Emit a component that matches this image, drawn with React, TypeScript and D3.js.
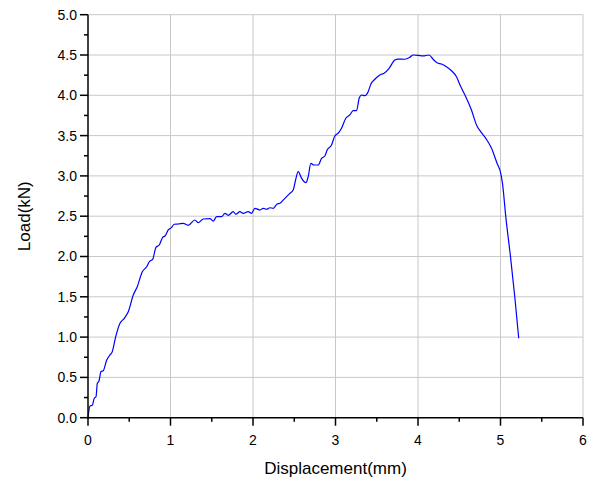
import React from "react";
import * as d3 from "d3";

const displacement = [
  0, 0.024, 0.052, 0.076, 0.097, 0.113, 0.133, 0.157, 0.185, 0.227, 0.266, 0.294, 0.336, 0.388, 0.44, 0.488,
  0.549, 0.597, 0.658, 0.711, 0.743, 0.784, 0.824, 0.864, 0.905, 0.933, 0.973, 1.014, 1.045, 1.094, 1.154,
  1.215, 1.296, 1.336, 1.397, 1.478, 1.518, 1.559, 1.62, 1.66, 1.7, 1.76, 1.793, 1.841, 1.881, 1.942, 1.983,
  2.023, 2.084, 2.124, 2.165, 2.205, 2.245, 2.293, 2.326, 2.386, 2.447, 2.487, 2.516, 2.548, 2.589, 2.641,
  2.669, 2.701, 2.738, 2.79, 2.831, 2.871, 2.899, 2.952, 2.992, 3.032, 3.073, 3.125, 3.174, 3.214, 3.255,
  3.287, 3.316, 3.356, 3.396, 3.428, 3.477, 3.537, 3.589, 3.65, 3.719, 3.759, 3.84, 3.901, 3.941, 4.001,
  4.062, 4.134, 4.183, 4.231, 4.285, 4.345, 4.406, 4.466, 4.515, 4.579, 4.648, 4.709, 4.769, 4.83, 4.89,
  4.958, 5.003, 5.024, 5.064, 5.121, 5.173, 5.221,
];
const load = [
  0, 0.145, 0.154, 0.241, 0.261, 0.427, 0.455, 0.571, 0.583, 0.716, 0.778, 0.819, 1.005, 1.171, 1.233, 1.315,
  1.522, 1.625, 1.811, 1.873, 1.935, 1.965, 2.114, 2.143, 2.238, 2.254, 2.329, 2.362, 2.4, 2.403, 2.412,
  2.387, 2.453, 2.419, 2.465, 2.469, 2.44, 2.494, 2.494, 2.536, 2.511, 2.556, 2.524, 2.556, 2.536, 2.556, 2.536,
  2.598, 2.577, 2.598, 2.586, 2.605, 2.598, 2.651, 2.66, 2.722, 2.784, 2.825, 2.949, 3.052, 2.97, 2.916,
  2.99, 3.156, 3.135, 3.135, 3.218, 3.247, 3.321, 3.383, 3.495, 3.529, 3.591, 3.715, 3.756, 3.809, 3.809,
  3.963, 4.004, 3.995, 4.045, 4.137, 4.199, 4.252, 4.273, 4.335, 4.438, 4.45, 4.447, 4.471, 4.5, 4.496,
  4.488, 4.5, 4.447, 4.404, 4.388, 4.355, 4.305, 4.231, 4.115, 3.983, 3.818, 3.632, 3.536, 3.454, 3.346,
  3.156, 3.032, 2.908, 2.494, 1.998, 1.501, 0.985,
];

const xTicks = [0, 1, 2, 3, 4, 5, 6];
const xMinorTicks = [0.5, 1.5, 2.5, 3.5, 4.5, 5.5];
const yTicks = [0, 0.5, 1, 1.5, 2, 2.5, 3, 3.5, 4, 4.5, 5];
const yMinorTicks = [0.25, 0.75, 1.25, 1.75, 2.25, 2.75, 3.25, 3.75, 4.25, 4.75];

const xTitle = "Displacement(mm)";
const yTitle = "Load(kN)";

export default function App() {
  const W = 598;
  const H = 481;
  const left = 88;
  const right = 583;
  const top = 14.7;
  const bottom = 417.7;
  const x = d3.scaleLinear().domain([0, 6]).range([left, right]);
  const y = d3.scaleLinear().domain([0, 5]).range([bottom, top]);
  const pts = displacement.map((d, i) => [d, load[i]] as [number, number]);
  const line = d3
    .line<[number, number]>()
    .x((d) => x(d[0]))
    .y((d) => y(d[1]))
    .curve(d3.curveMonotoneX);
  const font = "'Liberation Sans', Arial, sans-serif";
  const grid = "#c8c8c8";
  return (
    <svg
      width={W}
      height={H}
      style={{ position: "absolute", left: 0, top: 0, background: "#fff" }}
    >
      <rect x={0} y={0} width={W} height={H} fill="#fff" />
      {xTicks.slice(1).map((t) => (
        <line key={"gx" + t} x1={x(t)} x2={x(t)} y1={top} y2={bottom} stroke={grid} strokeWidth={1} />
      ))}
      {yTicks.slice(1).map((t) => (
        <line key={"gy" + t} x1={left} x2={right} y1={y(t)} y2={y(t)} stroke={grid} strokeWidth={1} />
      ))}
      <path d={line(pts) || ""} fill="none" stroke="#0000ff" strokeWidth={1.2} />
      <line x1={left} x2={left} y1={top} y2={bottom + 0.75} stroke="#000" strokeWidth={1.5} />
      <line x1={left - 0.75} x2={right} y1={bottom} y2={bottom} stroke="#000" strokeWidth={1.5} />
      {yTicks.map((t) => (
        <g key={"yt" + t}>
          <line x1={left - 8} x2={left} y1={y(t)} y2={y(t)} stroke="#000" strokeWidth={1.5} />
          <text
            x={left - 11}
            y={y(t)}
            dy="0.35em"
            textAnchor="end"
            fontFamily={font}
            fontSize={14}
            fill="#000"
          >
            {t.toFixed(1)}
          </text>
        </g>
      ))}
      {yMinorTicks.map((t) => (
        <line key={"ym" + t} x1={left - 4} x2={left} y1={y(t)} y2={y(t)} stroke="#000" strokeWidth={1.5} />
      ))}
      {xTicks.map((t) => (
        <g key={"xt" + t}>
          <line x1={x(t)} x2={x(t)} y1={bottom} y2={bottom + 8} stroke="#000" strokeWidth={1.5} />
          <text
            x={x(t)}
            y={bottom + 27}
            textAnchor="middle"
            fontFamily={font}
            fontSize={14}
            fill="#000"
          >
            {t}
          </text>
        </g>
      ))}
      {xMinorTicks.map((t) => (
        <line key={"xm" + t} x1={x(t)} x2={x(t)} y1={bottom} y2={bottom + 4} stroke="#000" strokeWidth={1.5} />
      ))}
      <text
        x={(left + right) / 2}
        y={474}
        textAnchor="middle"
        fontFamily={font}
        fontSize={17}
        fill="#000"
      >
        {xTitle}
      </text>
      <text
        transform={`translate(30, ${(top + bottom) / 2}) rotate(-90)`}
        textAnchor="middle"
        fontFamily={font}
        fontSize={17}
        fill="#000"
      >
        {yTitle}
      </text>
    </svg>
  );
}
